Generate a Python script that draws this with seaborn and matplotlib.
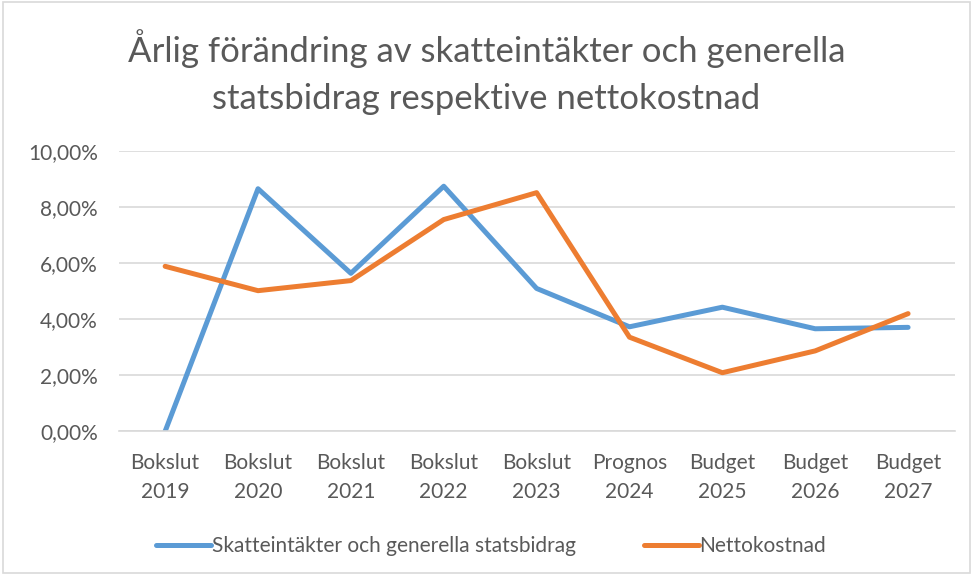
import matplotlib.pyplot as plt
import matplotlib.patches as mpatches
from matplotlib.ticker import FuncFormatter
import pandas as pd
import seaborn as sns

# Data (percent)
categories = ['Bokslut\n2019', 'Bokslut\n2020', 'Bokslut\n2021', 'Bokslut\n2022', 'Bokslut\n2023',
              'Prognos\n2024', 'Budget\n2025', 'Budget\n2026', 'Budget\n2027']
skatt = [0.00, 8.66, 5.64, 8.75, 5.10, 3.73, 4.43, 3.66, 3.71]
netto = [5.89, 5.02, 5.38, 7.56, 8.52, 3.36, 2.09, 2.87, 4.20]
series_names = ['Skatteintäkter och generella statsbidrag', 'Nettokostnad']

df = pd.DataFrame({
    'kategori': categories * 2,
    'varde': skatt + netto,
    'serie': [series_names[0]] * len(categories) + [series_names[1]] * len(categories),
})

sns.set_style('white')
plt.rcParams['font.family'] = ['Lato', 'DejaVu Sans']
text_col = '#595959'

fig = plt.figure(figsize=(9.73, 5.75), dpi=100)
ax = fig.add_axes([0.122, 0.25, 0.859, 0.487])

sns.lineplot(data=df, x='kategori', y='varde', hue='serie', sort=False,
             palette=['#5b9bd5', '#ed7d31'], linewidth=3.6, ax=ax, legend=False)

ax.set_xlim(-0.5, len(categories) - 0.5)
ax.set_ylim(0, 10)
ax.set_yticks([0, 2, 4, 6, 8, 10])
ax.yaxis.set_major_formatter(FuncFormatter(lambda v, p: f'{v:.2f}%'.replace('.', ',')))
ax.grid(axis='y', color='#d9d9d9', linewidth=1.2)
ax.set_axisbelow(True)
for s in ['top', 'right', 'left']:
    ax.spines[s].set_visible(False)
ax.spines['bottom'].set_color('#d9d9d9')
ax.spines['bottom'].set_linewidth(1.2)
ax.tick_params(axis='both', length=0, labelsize=15, colors=text_col)
ax.tick_params(axis='y', pad=15)
ax.tick_params(axis='x', pad=16)
for lab in ax.get_xticklabels():
    lab.set_linespacing(1.55)
ax.set_xlabel('')
ax.set_ylabel('')

fig.suptitle('Årlig förändring av skatteintäkter och generella\nstatsbidrag respektive nettokostnad',
             y=0.95, fontsize=25, color=text_col, linespacing=1.6)

handles = [plt.Line2D([], [], color='#5b9bd5', linewidth=3.6),
           plt.Line2D([], [], color='#ed7d31', linewidth=3.6)]
fig.legend(handles, series_names, loc='center', bbox_to_anchor=(0.505, 0.05), ncol=2,
           frameon=False, fontsize=15, labelcolor=text_col, handlelength=2.6,
           handletextpad=0.05, columnspacing=3.3)

fig.patches.append(mpatches.Rectangle((0.003, 0.003), 0.994, 0.994, transform=fig.transFigure,
                                      fill=False, edgecolor='#d9d9d9', linewidth=1.2))

fig.savefig('out.png', dpi=100)
